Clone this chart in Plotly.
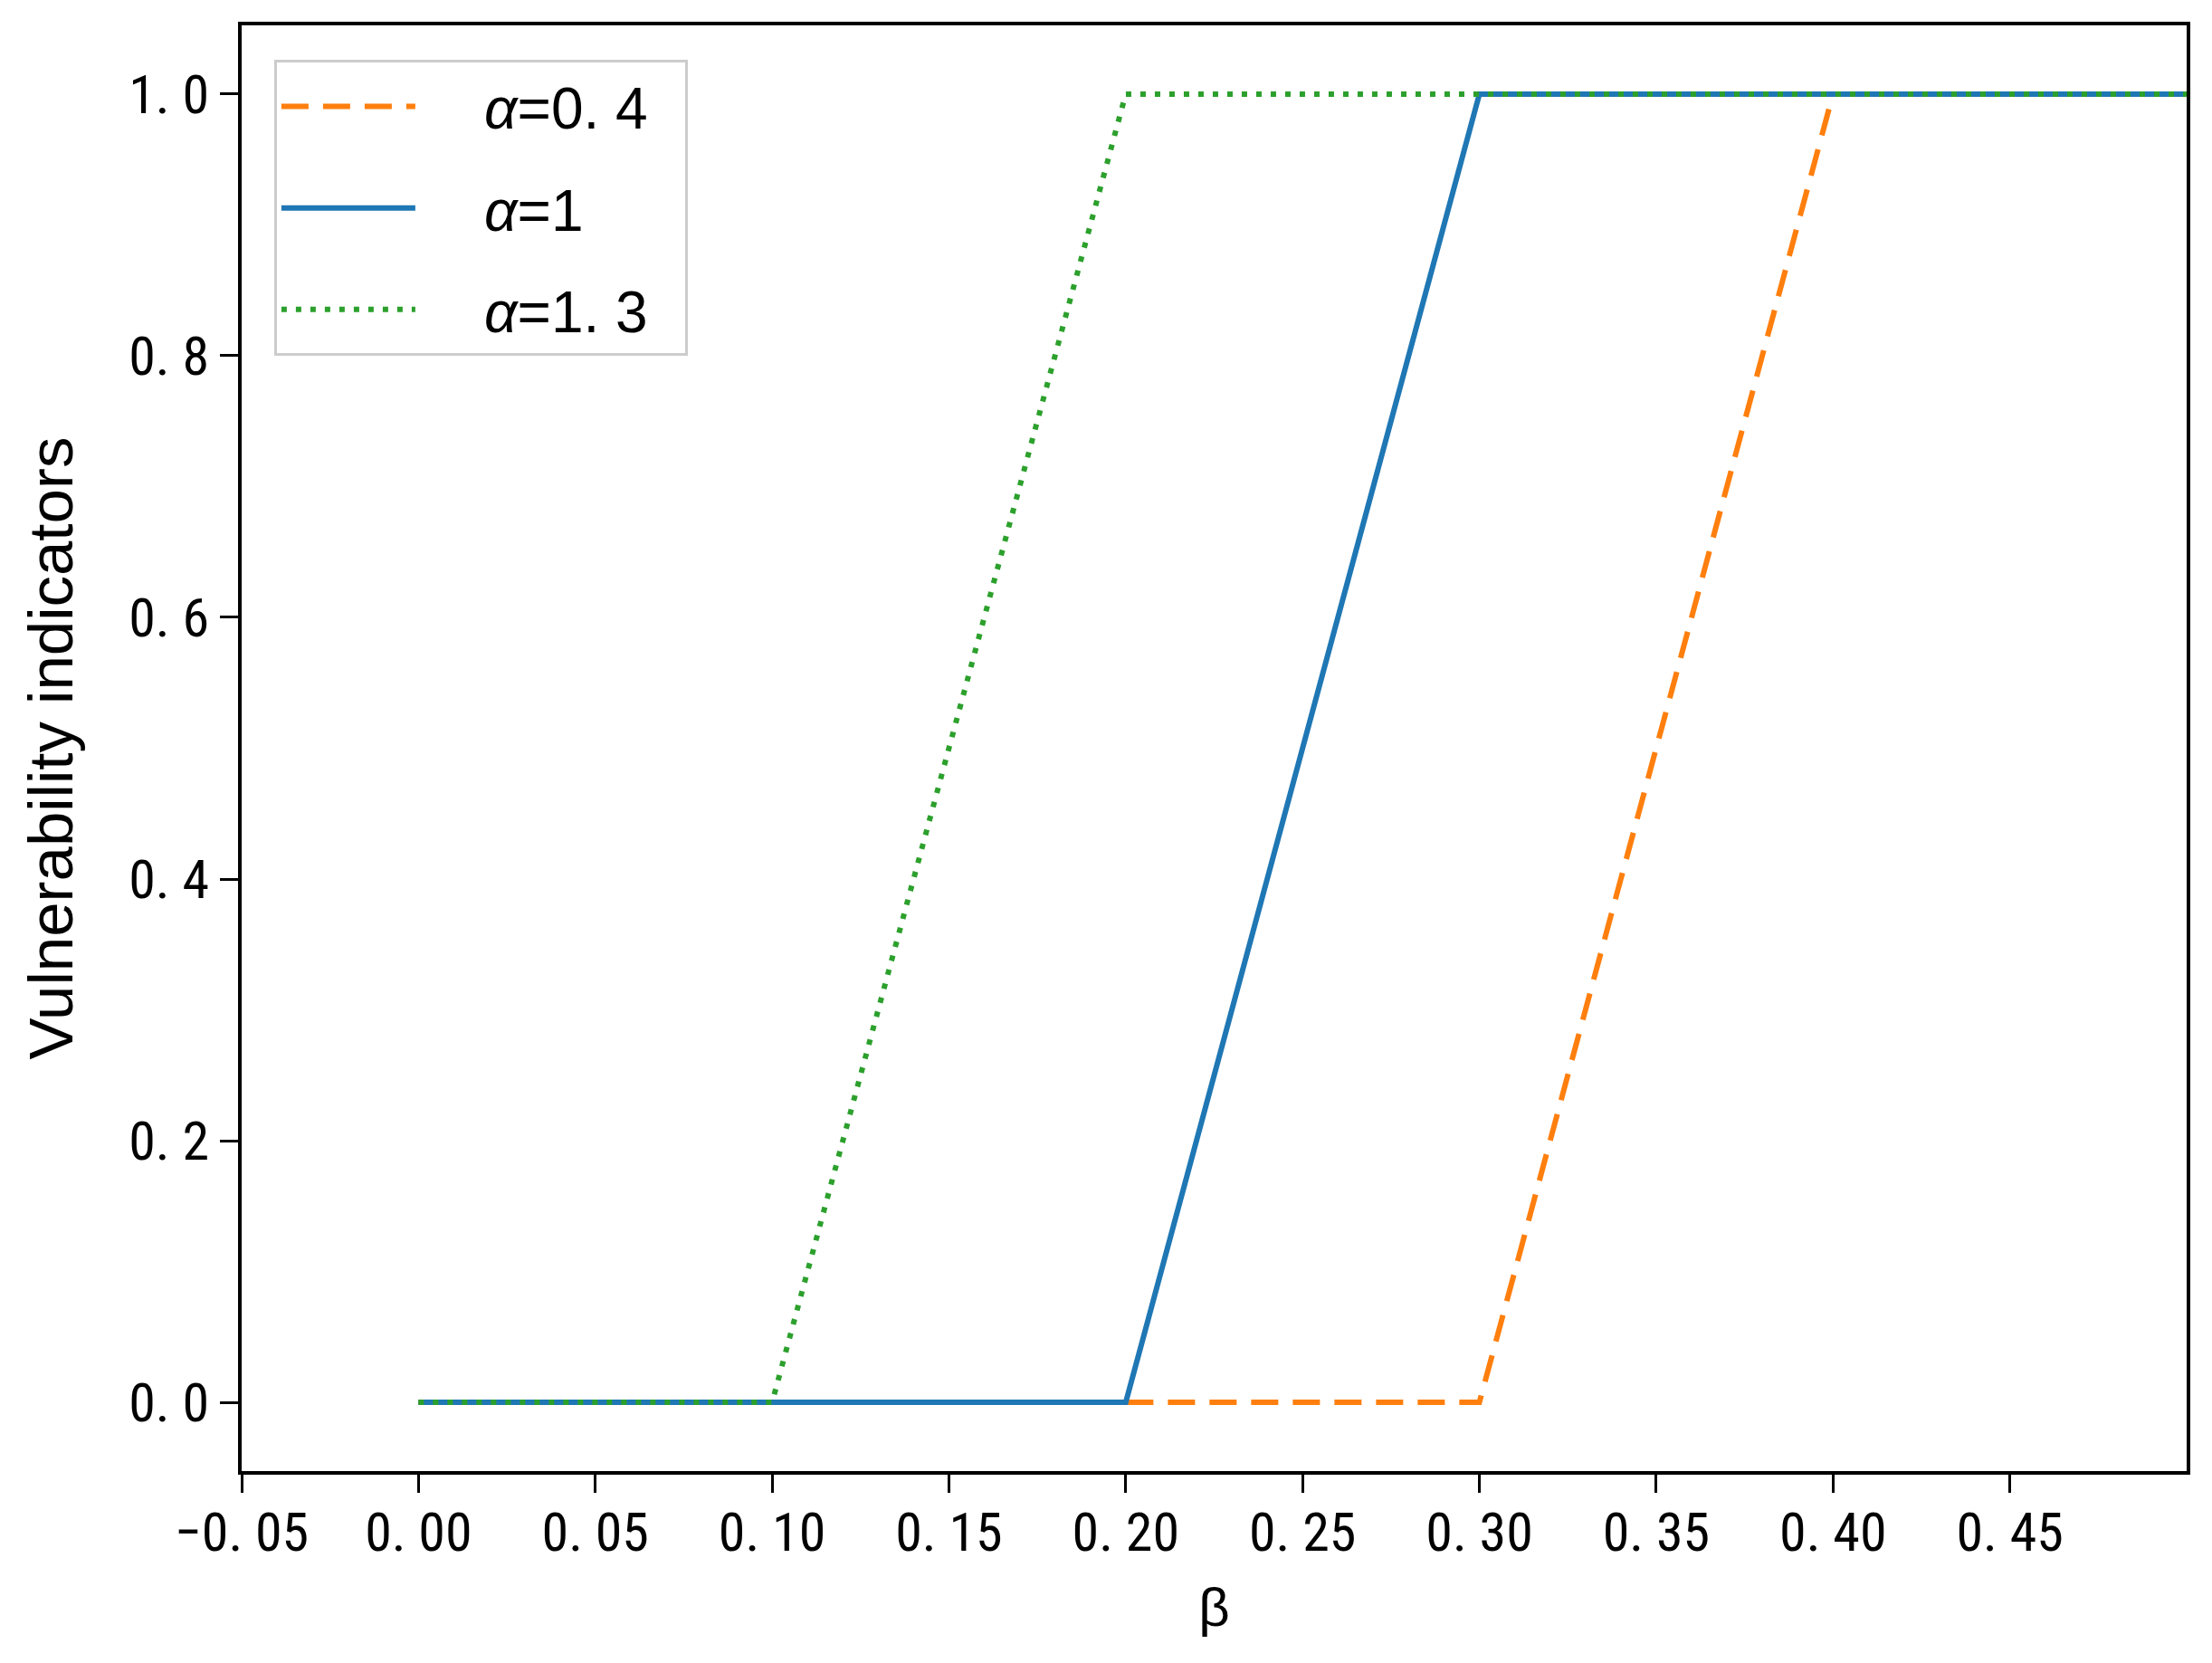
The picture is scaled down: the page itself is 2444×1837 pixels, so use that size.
import plotly.graph_objects as go

# data
beta = [0.0, 0.1, 0.2, 0.3, 0.4, 0.5]
v_a04 = [0, 0, 0, 0, 1, 1]
v_a1 = [0, 0, 0, 1, 1, 1]
v_a13 = [0, 0, 1, 1, 1, 1]
PAD = "\u00a0\u00a0\u00a0\u00a0"
TAIL = "\u00a0\u00a0"
series_names = [PAD + "<i>α</i>=0. 4" + TAIL, PAD + "<i>α</i>=1" + TAIL, PAD + "<i>α</i>=1. 3" + TAIL]

x_tickvals = [-0.05, 0.0, 0.05, 0.10, 0.15, 0.20, 0.25, 0.30, 0.35, 0.40, 0.45]
x_ticktext = ["−0. 05", "0. 00", "0. 05", "0. 10", "0. 15", "0. 20", "0. 25", "0. 30", "0. 35", "0. 40", "0. 45"]
y_tickvals = [0.0, 0.2, 0.4, 0.6, 0.8, 1.0]
y_ticktext = ["0. 0", "0. 2", "0. 4", "0. 6", "0. 8", "1. 0"]

TICKFONT = "Roboto Condensed, DejaVu Sans Condensed, Liberation Sans Narrow, Liberation Sans, sans-serif"

fig = go.Figure()
fig.add_trace(go.Scatter(x=beta, y=v_a04, mode="lines", name=series_names[0], legendgroup="a",
                         line=dict(color="#ff7f0e", width=6, dash="30px,16px")))
fig.add_trace(go.Scatter(x=beta, y=v_a1, mode="lines", name=series_names[1], legendgroup="b",
                         line=dict(color="#1f77b4", width=6)))
fig.add_trace(go.Scatter(x=beta, y=v_a13, mode="lines", name=series_names[2], legendgroup="c",
                         line=dict(color="#2ca02c", width=6, dash="6px,10px")))

axis_common = dict(showline=True, linecolor="black", linewidth=4, mirror=True,
                   ticks="outside", ticklen=20, tickwidth=3, tickcolor="black",
                   showgrid=False, zeroline=False,
                   tickfont=dict(family=TICKFONT, size=60, color="black"))

fig.update_layout(
    width=2444, height=1837,
    margin=dict(l=259, r=36, t=20, b=220),
    paper_bgcolor="white", plot_bgcolor="white",
    xaxis=dict(range=[-0.05, 0.5], tickvals=x_tickvals, ticktext=x_ticktext, ticklabelstandoff=-8,
               title=dict(text="β", font=dict(family="Liberation Sans, sans-serif", size=60, color="black"), standoff=28),
               **axis_common),
    yaxis=dict(range=[-0.0525, 1.0525], tickvals=y_tickvals, ticktext=y_ticktext,
               title=dict(text="Vulnerability indicators", font=dict(family="Liberation Sans, sans-serif", size=69, color="black"), standoff=40),
               **axis_common),
    legend=dict(x=0.0167, y=0.976, xanchor="left", yanchor="top",
                bgcolor="rgba(255,255,255,0.8)", bordercolor="#cccccc", borderwidth=3,
                font=dict(family="Liberation Sans, sans-serif", size=64, color="black"),
                itemwidth=148, tracegroupgap=26),
    showlegend=True,
)

fig.write_html("out.html")
